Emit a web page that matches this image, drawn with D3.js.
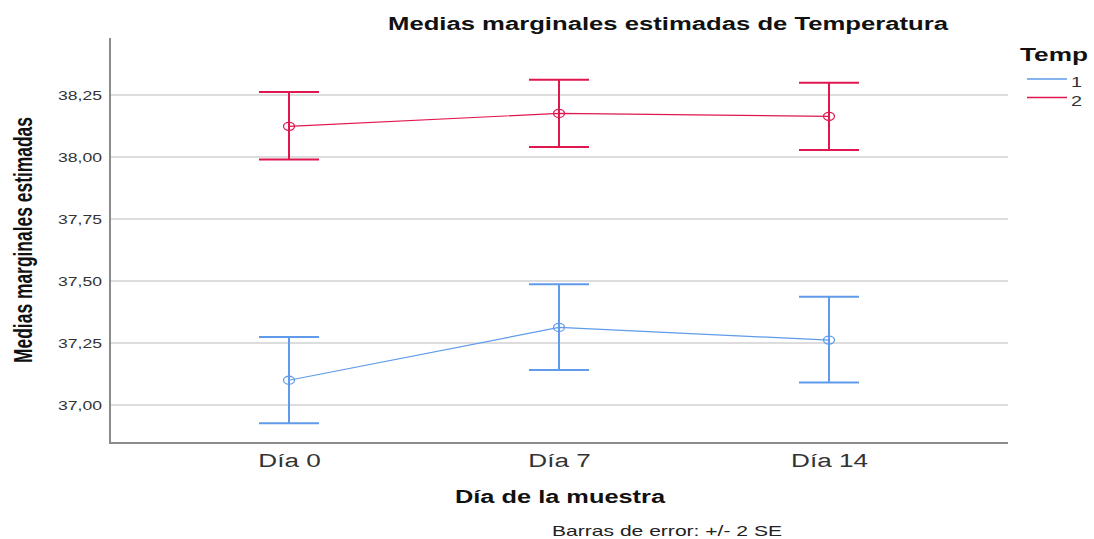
<!DOCTYPE html>
<html><head><meta charset="utf-8">
<script src="https://cdn.jsdelivr.net/npm/d3@7"></script>
<style>body{margin:0;background:#fff;} svg{display:block;font-family:Arial,"Liberation Sans",sans-serif;}</style>
</head><body>
<svg id="c" width="1094" height="539"></svg>
<script>
const categories = ["Día 0", "Día 7", "Día 14"];
const seriesNames = ["1", "2"];
const mean1 = [37.100, 37.313, 37.262];
const lower1 = [36.927, 37.141, 37.091];
const upper1 = [37.274, 37.487, 37.437];
const mean2 = [38.124, 38.176, 38.164];
const lower2 = [37.990, 38.040, 38.028];
const upper2 = [38.262, 38.312, 38.300];
const yTicks = [37.00, 37.25, 37.50, 37.75, 38.00, 38.25];
const colors = ["#5f9bea", "#e0174f"];

const svg = d3.select("#c");
const L = 110, R = 1008, T = 38, B = 443;
const x = d3.scalePoint().domain(categories).range([L, R]).padding(0.663);
const y = d3.scaleLinear().domain([36.847, 38.48]).range([B, T]);
const fmt = v => d3.format(".2f")(v).replace(".", ",");
// the reference's text is stretched horizontally ~1.5x
function stretch(sel, k) {
  sel.each(function() {
    const w = this.getComputedTextLength();
    d3.select(this).attr("textLength", w * k).attr("lengthAdjust", "spacingAndGlyphs");
  });
}

// gridlines
svg.append("g").selectAll("line").data(yTicks).join("line")
  .attr("x1", L).attr("x2", R).attr("y1", d => y(d)).attr("y2", d => y(d))
  .attr("stroke", "#d2d2d2").attr("stroke-width", 1.5);

// y axis
const ya = svg.append("g").attr("transform", `translate(${L},0)`)
  .call(d3.axisLeft(y).tickValues(yTicks).tickFormat(fmt).tickSize(0).tickPadding(8));
ya.select(".domain").remove();
ya.selectAll("text").attr("font-size", 13).attr("fill", "#333").attr("font-family", "Arial,'Liberation Sans',sans-serif")
  .attr("textLength", 44).attr("lengthAdjust", "spacingAndGlyphs");

// x axis
const xa = svg.append("g").attr("transform", `translate(0,${B})`)
  .call(d3.axisBottom(x).tickSize(0).tickPadding(11));
xa.select(".domain").remove();
xa.selectAll("text").attr("font-size", 18).attr("fill", "#333").attr("font-family", "Arial,'Liberation Sans',sans-serif")
  .call(stretch, 1.45);

// axis lines
svg.append("line").attr("x1", L).attr("x2", L).attr("y1", T).attr("y2", B + 1).attr("stroke", "#8c8c8c").attr("stroke-width", 2);
svg.append("line").attr("x1", L - 1).attr("x2", R).attr("y1", B).attr("y2", B).attr("stroke", "#8c8c8c").attr("stroke-width", 2);

const series = [
  {name: seriesNames[0], mean: mean1, lo: lower1, hi: upper1, color: colors[0]},
  {name: seriesNames[1], mean: mean2, lo: lower2, hi: upper2, color: colors[1]}
];
const cap = 30;
series.forEach(s => {
  const g = svg.append("g");
  const pts = categories.map((c, i) => ({c, m: s.mean[i], lo: s.lo[i], hi: s.hi[i]}));
  g.append("path").datum(pts)
    .attr("d", d3.line().x(d => x(d.c)).y(d => y(d.m)))
    .attr("fill", "none").attr("stroke", s.color).attr("stroke-width", 1.2);
  const e = g.selectAll("g.e").data(pts).join("g").attr("class", "e");
  e.append("line").attr("x1", d => x(d.c)).attr("x2", d => x(d.c)).attr("y1", d => y(d.lo)).attr("y2", d => y(d.hi))
    .attr("stroke", s.color).attr("stroke-width", 2);
  e.append("line").attr("x1", d => x(d.c) - cap).attr("x2", d => x(d.c) + cap).attr("y1", d => y(d.hi)).attr("y2", d => y(d.hi))
    .attr("stroke", s.color).attr("stroke-width", 2);
  e.append("line").attr("x1", d => x(d.c) - cap).attr("x2", d => x(d.c) + cap).attr("y1", d => y(d.lo)).attr("y2", d => y(d.lo))
    .attr("stroke", s.color).attr("stroke-width", 2);
  e.append("ellipse").attr("cx", d => x(d.c)).attr("cy", d => y(d.m)).attr("rx", 5.5).attr("ry", 4)
    .attr("fill", "none").attr("stroke", s.color).attr("stroke-width", 1.3);
});

// title
svg.append("text").attr("x", 668).attr("y", 30).attr("text-anchor", "middle")
  .attr("font-size", 18).attr("font-weight", "bold").attr("fill", "#111")
  .text("Medias marginales estimadas de Temperatura")
  .attr("textLength", 560).attr("lengthAdjust", "spacingAndGlyphs");

// y label
svg.append("text").attr("transform", "translate(32,240) scale(1.4,1) rotate(-90)").attr("text-anchor", "middle")
  .attr("font-size", 19).attr("font-weight", "bold").attr("fill", "#111")
  .text("Medias marginales estimadas")
  .attr("textLength", 246).attr("lengthAdjust", "spacingAndGlyphs");

// x label
svg.append("text").attr("x", 560).attr("y", 503).attr("text-anchor", "middle")
  .attr("font-size", 18).attr("font-weight", "bold").attr("fill", "#111")
  .text("Día de la muestra")
  .attr("textLength", 210).attr("lengthAdjust", "spacingAndGlyphs");

// footnote
svg.append("text").attr("x", 552).attr("y", 536)
  .attr("font-size", 15).attr("fill", "#222")
  .text("Barras de error: +/- 2 SE")
  .attr("textLength", 230).attr("lengthAdjust", "spacingAndGlyphs");

// legend
svg.append("text").attr("x", 1020).attr("y", 61).attr("font-size", 19).attr("font-weight", "bold").attr("fill", "#111")
  .text("Temp").attr("textLength", 68).attr("lengthAdjust", "spacingAndGlyphs");
const lg = svg.append("g").selectAll("g").data(series).join("g")
  .attr("transform", (d, i) => `translate(1027,${79 + i * 18.5})`);
lg.append("line").attr("x1", 0).attr("x2", 40).attr("y1", 0).attr("y2", 0).attr("stroke", d => d.color).attr("stroke-width", 1.3);
lg.append("text").attr("x", 44).attr("y", 8).attr("font-size", 15).attr("fill", "#333").text(d => d.name)
  .attr("textLength", 11).attr("lengthAdjust", "spacingAndGlyphs");
</script>
</body></html>
